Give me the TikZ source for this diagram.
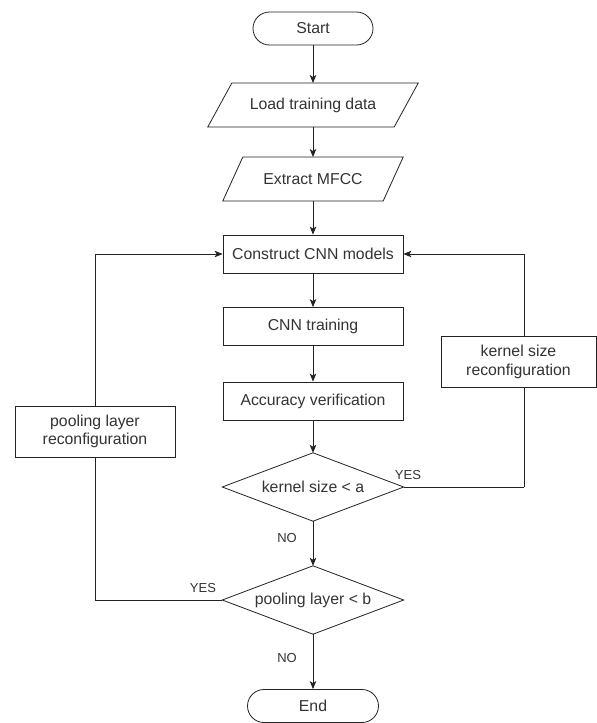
\documentclass[tikz,border=0pt]{standalone}
\usepackage{fontspec}
\setmainfont{Liberation Sans}
\usetikzlibrary{arrows.meta}
\definecolor{linec}{HTML}{222222}
\definecolor{textc}{HTML}{333333}
\begin{document}
\begin{tikzpicture}[x=1pt,y=-1pt,
  every node/.style={text=textc,font=\fontsize{15.8}{18.5}\selectfont,inner sep=0pt},
  line/.style={draw=linec,line width=0.8pt},
  arr/.style={line,-{Stealth[length=8pt,width=6.5pt,inset=2pt]}},
  term/.style={line,rectangle,rounded corners=16.5pt,minimum height=33pt},
  procbox/.style={line,rectangle,minimum width=180pt,minimum height=38pt},
  iobox/.style={rectangle,minimum height=43.5pt},
  decision/.style={rectangle,minimum width=181pt,minimum height=68pt},
  sidebox/.style={line,fill=white,rectangle,align=center,minimum height=51pt},
  lab/.style={font=\fontsize{13}{15}\selectfont}
]
\useasboundingbox (0,0) rectangle (597,723);

\node[term,minimum width=120pt] (start) at (313,28.5) {Start};
\node[iobox,minimum width=186pt] (load) at (313,105) {Load training data};
\draw[line] ([xshift=12pt]load.north west) -- ([xshift=12pt]load.north east)
  -- ([xshift=-12pt]load.south east) -- ([xshift=-12pt]load.south west) -- cycle;
\node[iobox,minimum width=160pt] (extract) at (313,179) {Extract MFCC};
\draw[line] ([xshift=10pt]extract.north west) -- ([xshift=10pt]extract.north east)
  -- ([xshift=-10pt]extract.south east) -- ([xshift=-10pt]extract.south west) -- cycle;
\node[procbox] (construct) at (313,254) {Construct CNN models};
\node[procbox] (train) at (313,326.5) {CNN training};
\node[procbox] (acc) at (313,401) {Accuracy verification};
\node[decision] (d1) at (313,487) {kernel size < a};
\draw[line] (d1.north) -- (d1.east) -- (d1.south) -- (d1.west) -- cycle;
\node[decision] (d2) at (313,600) {pooling layer < b};
\draw[line] (d2.north) -- (d2.east) -- (d2.south) -- (d2.west) -- cycle;
\node[term,minimum width=131pt] (end) at (313,706) {End};

\coordinate (kx) at (524,487);
\draw[line] (d1.east) -- (kx);
\node[sidebox,minimum width=155pt] (kernel) at (518.5,362) {kernel size\\reconfiguration};
\draw[line] (kx) -- (kx |- kernel.south);
\draw[arr] (kx |- kernel.north) |- (construct.east);

\node[sidebox,minimum width=160pt] (pool) at (95,431.5) {pooling layer\\reconfiguration};
\draw[line] (d2.west) -| (pool.south);
\draw[arr] (pool.north) |- (construct.west);

\draw[arr] (start) -- (load);
\draw[arr] (load) -- (extract);
\draw[arr] (extract) -- (construct);
\draw[arr] (construct) -- (train);
\draw[arr] (train) -- (acc);
\draw[arr] (acc) -- (d1);
\draw[arr] (d1) -- (d2);
\draw[arr] (d2) -- (end);

\node[lab] (yes1) at (408,475) {YES};
\node[lab] (yes2) at (203,588) {YES};
\node[lab] (no1) at (287,538) {NO};
\node[lab] (no2) at (287,658) {NO};
\end{tikzpicture}
\end{document}
